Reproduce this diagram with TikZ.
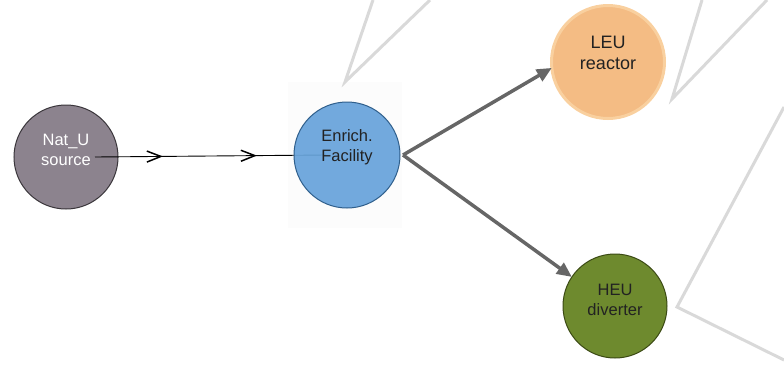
\documentclass[tikz,border=0pt]{standalone}
\usepackage{fontspec}
\setmainfont{Liberation Sans}
\usetikzlibrary{arrows.meta,decorations.markings}
\definecolor{natfill}{HTML}{8C838E}
\definecolor{natdraw}{HTML}{3A363B}
\definecolor{enrfill}{HTML}{67A3DB}
\definecolor{enrdraw}{HTML}{2F5F8C}
\definecolor{leufill}{HTML}{F4BC84}
\definecolor{leudraw}{HTML}{F9D09F}
\definecolor{heufill}{HTML}{6E8A2E}
\definecolor{heudraw}{HTML}{3B4A14}
\definecolor{bglc}{HTML}{D9D9D9}
\definecolor{flowc}{HTML}{666666}
\definecolor{txtdark}{HTML}{222222}
\begin{document}
\begin{tikzpicture}[x=1pt,y=-1pt,
  ball/.style={circle,inner sep=0pt,outer sep=0pt,line width=1pt},
  lbl/.style={font=\fontsize{16.5}{20}\selectfont,align=center},
  bgline/.style={draw=bglc,line width=3pt,line join=miter},
  flow/.style={draw=flowc,line width=3.5pt,-{Triangle[length=15pt,width=13pt]}},
  feed/.style={draw=black,line width=0.9pt,
    decoration={markings,
      mark=at position 0.294 with {\arrow{Straight Barb[length=14pt,width=11pt,line width=1.5pt]}},
      mark=at position 0.701 with {\arrow{Straight Barb[length=14pt,width=11pt,line width=1.5pt]}}},
    postaction=decorate}
]
\useasboundingbox (0,0) rectangle (784,365);
\fill[gray!2] (288,82) rectangle (402,228);
\draw[bgline] (373,0) -- (345,82) -- (430,0);
\draw[bgline] (702,0) -- (672,99) -- (767,0);
\draw[bgline] (784,107) -- (677,307) -- (784,360);

\node[ball,fill=natfill,draw=natdraw,minimum size=104pt,
  label={[lbl,text=white,yshift=7pt]center:Nat\_U\\source}] (nat) at (66,157) {};
\coordinate (ns) at (95,157);
\coordinate (ee) at (326,155);
\draw[feed] (ns) -- (ee);
\node[ball,fill=enrfill,fill opacity=0.92,draw=enrdraw,minimum size=106pt,
  label={[lbl,text=txtdark,yshift=8pt]center:Enrich.\\Facility}] (enr) at (347,155) {};
\node[ball,fill=leufill,draw=leudraw,line width=3pt,minimum size=113pt,
  label={[lbl,font=\fontsize{18}{21}\selectfont,text=txtdark,yshift=9pt]center:LEU\\reactor}] (leu) at (608,62) {};
\node[ball,fill=heufill,draw=heudraw,minimum size=104pt,
  label={[lbl,text=txtdark,yshift=6pt]center:HEU\\diverter}] (heu) at (615,306) {};

\draw[flow] ([xshift=3pt]enr.east) -- (leu.186);
\draw[flow] ([xshift=3pt]enr.east) -- (heu.146);
\end{tikzpicture}
\end{document}
